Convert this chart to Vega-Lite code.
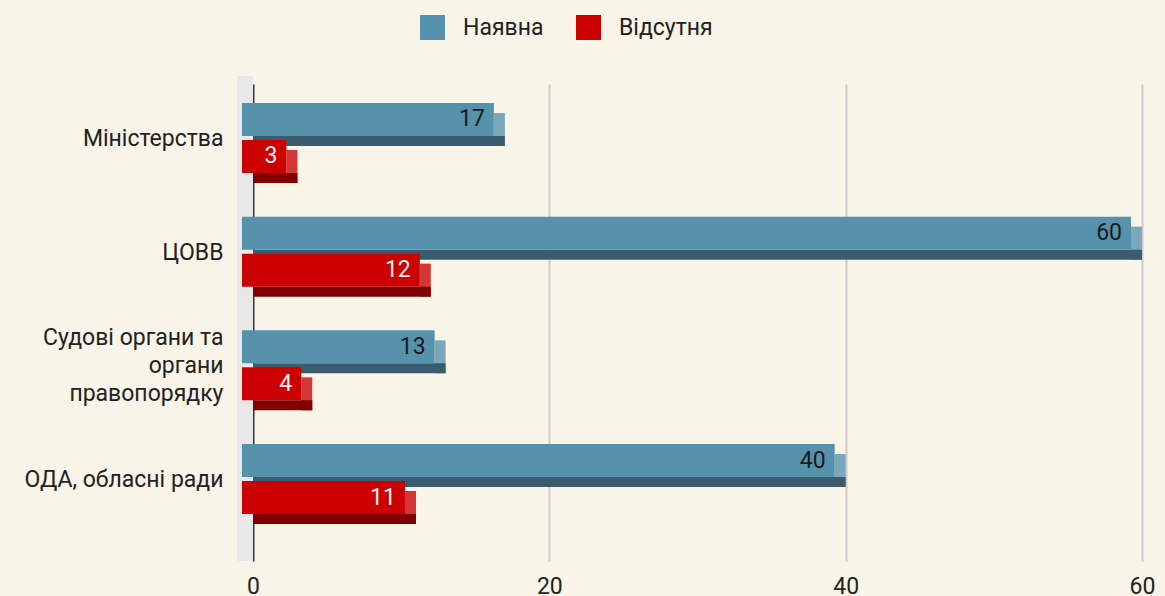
{
  "$schema": "https://vega.github.io/schema/vega-lite/v6.json",
  "width": 889,
  "height": 477,
  "autosize": {"type": "none"},
  "padding": {"left": 253, "top": 84, "right": 23, "bottom": 35},
  "background": "#f8f4e8",
  "config": {"view": {"stroke": null}, "font": "Roboto", "axis": {"labelFont": "Roboto"}, "legend": {"labelFont": "Roboto"}},
  "data": {
    "values": [
      {"category": "Міністерства", "series": "Наявна", "value": 17},
      {"category": "Міністерства", "series": "Відсутня", "value": 3},
      {"category": "ЦОВВ", "series": "Наявна", "value": 60},
      {"category": "ЦОВВ", "series": "Відсутня", "value": 12},
      {"category": "Судові органи та органи правопорядку", "series": "Наявна", "value": 13},
      {"category": "Судові органи та органи правопорядку", "series": "Відсутня", "value": 4},
      {"category": "ОДА, обласні ради", "series": "Наявна", "value": 40},
      {"category": "ОДА, обласні ради", "series": "Відсутня", "value": 11}
    ]
  },
  "layer": [
    {
      "mark": {"type": "rect", "color": "#e8e8e8", "xOffset": -16, "x2Offset": 0, "yOffset": -8, "y2Offset": -8},
      "encoding": {
        "x": {"datum": 0, "type": "quantitative"},
        "x2": {"datum": 0}
      }
    },
    {
      "transform": [{"filter": "datum.series === 'Наявна'"}],
      "mark": {"type": "bar", "color": "#79a7bc", "height": 33, "yOffset": -22.5, "xOffset": -11, "x2Offset": 0},
      "encoding": {
        "y": {"field": "category", "type": "nominal", "sort": null, "scale": {"domain": ["Міністерства", "ЦОВВ", "Судові органи та органи правопорядку", "ОДА, обласні ради"], "paddingInner": 0, "paddingOuter": 0.098},
          "axis": {"title": null, "ticks": false, "domain": true, "domainColor": "#333333", "domainWidth": 2, "labelFontSize": 23, "labelColor": "#222222", "labelPadding": 30,
            "labelOffset": {"condition": {"test": "datum.value == 'Судові органи та органи правопорядку'", "value": -41}, "value": -13},
            "labelLimit": 400, "labelLineHeight": 28,
            "labelExpr": "datum.value == 'Судові органи та органи правопорядку' ? ['Судові органи та', 'органи', 'правопорядку'] : datum.label"}},
        "x": {"field": "value", "type": "quantitative", "scale": {"domain": [0, 60], "nice": false},
          "axis": {"title": null, "values": [0, 20, 40, 60], "ticks": false, "domain": false, "grid": true, "gridColor": "#cccccc", "gridWidth": 2,
            "gridOpacity": {"condition": {"test": "datum.value === 0", "value": 0}, "value": 1},
            "labelFlush": false, "labelFontSize": 23, "labelColor": "#222222", "labelPadding": 14}},
        "x2": {"field": "value"}
      }
    },
    {
      "transform": [{"filter": "datum.series === 'Наявна'"}],
      "mark": {"type": "bar", "color": "#3b5b6e", "height": 10, "yOffset": -11},
      "encoding": {
        "y": {"field": "category", "type": "nominal", "sort": null},
        "x": {"field": "value", "type": "quantitative"}
      }
    },
    {
      "transform": [{"filter": "datum.series === 'Наявна'"}],
      "mark": {"type": "bar", "height": 33, "yOffset": -32.5, "xOffset": -11, "x2Offset": -11},
      "encoding": {
        "y": {"field": "category", "type": "nominal", "sort": null},
        "x": {"field": "value", "type": "quantitative"},
        "color": {"field": "series", "type": "nominal",
          "scale": {"domain": ["Наявна", "Відсутня"], "range": ["#5792ad", "#cc0000"]},
          "legend": {"title": null, "orient": "none", "legendX": 167, "legendY": -69, "direction": "horizontal", "symbolType": "square", "symbolSize": 625, "symbolStrokeWidth": 0, "symbolOpacity": 1, "labelFontSize": 23, "labelColor": "#222222", "labelOffset": 18, "columnPadding": 32, "padding": 0}}
      }
    },
    {
      "transform": [{"filter": "datum.series === 'Наявна'"}],
      "mark": {"type": "text", "align": "right", "baseline": "middle", "dx": -20, "dy": -32.5, "fontSize": 23, "color": "#1a1a1a"},
      "encoding": {
        "y": {"field": "category", "type": "nominal", "sort": null},
        "x": {"field": "value", "type": "quantitative"},
        "text": {"field": "value", "type": "quantitative"}
      }
    },
    {
      "transform": [{"filter": "datum.series === 'Відсутня'"}],
      "mark": {"type": "bar", "color": "#d43535", "height": 33, "yOffset": 14.5, "xOffset": -11, "x2Offset": 0},
      "encoding": {
        "y": {"field": "category", "type": "nominal", "sort": null},
        "x": {"field": "value", "type": "quantitative"},
        "x2": {"field": "value"}
      }
    },
    {
      "transform": [{"filter": "datum.series === 'Відсутня'"}],
      "mark": {"type": "bar", "color": "#800000", "height": 10, "yOffset": 26},
      "encoding": {
        "y": {"field": "category", "type": "nominal", "sort": null},
        "x": {"field": "value", "type": "quantitative"}
      }
    },
    {
      "transform": [{"filter": "datum.series === 'Відсутня'"}],
      "mark": {"type": "bar", "height": 33, "yOffset": 4.5, "xOffset": -11, "x2Offset": -11},
      "encoding": {
        "y": {"field": "category", "type": "nominal", "sort": null},
        "x": {"field": "value", "type": "quantitative"},
        "color": {"field": "series", "type": "nominal"}
      }
    },
    {
      "transform": [{"filter": "datum.series === 'Відсутня'"}],
      "mark": {"type": "text", "align": "right", "baseline": "middle", "dx": -20, "dy": 4.5, "fontSize": 23, "color": "#fbeeee"},
      "encoding": {
        "y": {"field": "category", "type": "nominal", "sort": null},
        "x": {"field": "value", "type": "quantitative"},
        "text": {"field": "value", "type": "quantitative"}
      }
    }
  ]
}
